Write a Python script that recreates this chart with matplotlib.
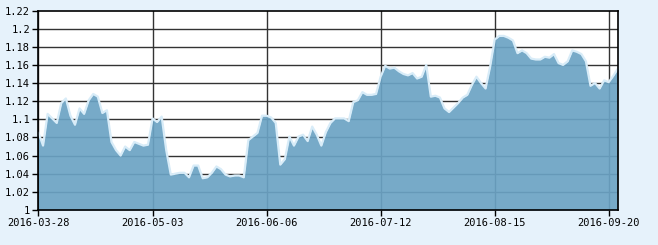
import matplotlib.pyplot as plt

tick_labels = ['2016-03-28', '2016-05-03', '2016-06-06', '2016-07-12', '2016-08-15', '2016-09-20']
tick_idx = [0, 25, 50, 75, 100, 125]

nav = [1.085, 1.071, 1.106, 1.101, 1.096, 1.118, 1.123, 1.104, 1.094, 1.112,
       1.106, 1.121, 1.128, 1.125, 1.107, 1.110, 1.075, 1.066, 1.060, 1.070,
       1.066, 1.075, 1.073, 1.071, 1.072, 1.101, 1.097, 1.103, 1.066, 1.039,
       1.040, 1.041, 1.041, 1.036, 1.049, 1.049, 1.035, 1.036, 1.041, 1.048,
       1.045, 1.039, 1.037, 1.038, 1.038, 1.036, 1.077, 1.081, 1.085, 1.104,
       1.104, 1.102, 1.096, 1.050, 1.056, 1.081, 1.071, 1.081, 1.083, 1.076,
       1.092, 1.083, 1.071, 1.086, 1.096, 1.101, 1.101, 1.101, 1.098, 1.119,
       1.121, 1.130, 1.127, 1.127, 1.128, 1.147, 1.159, 1.156, 1.157, 1.153,
       1.150, 1.1485, 1.151, 1.145, 1.147, 1.160, 1.125, 1.126, 1.124, 1.112,
       1.108, 1.113, 1.118, 1.124, 1.127, 1.138, 1.147, 1.140, 1.134, 1.158,
       1.188, 1.192, 1.192, 1.190, 1.187, 1.173, 1.176, 1.173, 1.167, 1.166,
       1.166, 1.169, 1.168, 1.172, 1.162, 1.160, 1.164, 1.176, 1.1745, 1.172,
       1.164, 1.137, 1.140, 1.134, 1.143, 1.141, 1.148, 1.156]

yticks = [1, 1.02, 1.04, 1.06, 1.08, 1.1, 1.12, 1.14, 1.16, 1.18, 1.2, 1.22]
ylabels = ['1', '1.02', '1.04', '1.06', '1.08', '1.1', '1.12', '1.14', '1.16', '1.18', '1.2', '1.22']

x = list(range(len(nav)))

fig = plt.figure(figsize=(6.58, 2.45), dpi=100, facecolor='#e6f2fb')
ax = fig.add_axes([0.0585, 0.143, 0.8805, 0.814])
ax.set_facecolor('white')

for y in yticks[1:-1]:
    ax.axhline(y, color='#333333', lw=1, zorder=1)
for t in tick_idx:
    ax.axvline(t, color='#333333', lw=1, zorder=1)

ax.fill_between(x, 1, nav, color='#6ba3c4', alpha=0.92, lw=0, zorder=2)
ax.plot(x, nav, color='#d8ecf8', lw=1.6, zorder=3)

ax.set_xlim(0, len(nav) - 1)
ax.set_ylim(1, 1.22)
ax.set_xticks(tick_idx)
ax.set_xticklabels(tick_labels)
ax.set_yticks(yticks)
ax.set_yticklabels(ylabels)
ax.tick_params(direction='out', length=4, width=1, color='black', labelsize=7.5, pad=2)
for lab in ax.get_xticklabels() + ax.get_yticklabels():
    lab.set_family('DejaVu Sans Mono')
for s in ax.spines.values():
    s.set_color('black')
    s.set_linewidth(1.2)
    s.set_zorder(4)

plt.savefig('out.png', dpi=100, facecolor=fig.get_facecolor())
